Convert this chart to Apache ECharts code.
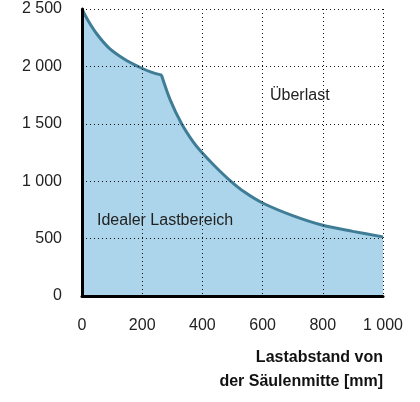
<!DOCTYPE html>
<html>
<head>
<meta charset="utf-8">
<script src="https://cdn.jsdelivr.net/npm/echarts@6/dist/echarts.min.js"></script>
<style>
  html, body { margin: 0; padding: 0; background: #fff; }
  #chart { width: 420px; height: 402px; }
</style>
</head>
<body>
<div id="chart"></div>
<script>
// Lastkurve in zwei Abschnitten, Knick bei ~264 mm
var abstandA = [0, 20, 50, 90, 140, 190, 230, 266];
var lastA = [2500, 2400, 2280, 2160, 2065, 1995, 1950, 1924];
var abstandB = [264, 292, 330, 370, 400, 440, 490, 540, 600, 700, 800, 900, 1000];
var lastB = [1925, 1715, 1505, 1340, 1245, 1135, 1010, 905, 810, 700, 616, 563, 515];

var xTicks = [0, 200, 400, 600, 800, 1000];
var yTicks = [0, 500, 1000, 1500, 2000, 2500];

function tausend(v) {
  return String(v).replace(/\B(?=(\d{3})+(?!\d))/g, ' ');
}
function paare(xs, ys) {
  var out = [];
  for (var i = 0; i < xs.length; i++) out.push([xs[i], ys[i]]);
  return out;
}

var fnt = '"Liberation Sans", Arial, sans-serif';
var linie = '#3f7d97';
var flaeche = '#acd5eb';

var chart = echarts.init(document.getElementById('chart'));
chart.setOption({
  animation: false,
  grid: { left: 82, right: 37, top: 9, bottom: 106 },
  xAxis: {
    type: 'value', min: xTicks[0], max: xTicks[xTicks.length - 1], interval: 200, z: 5,
    axisLine: { show: true, onZero: false, lineStyle: { color: '#000', width: 3 } },
    axisTick: { show: false },
    axisLabel: { margin: 22, fontSize: 16, color: '#222', fontFamily: fnt, formatter: tausend },
    splitLine: { show: true, lineStyle: { color: '#111', type: [1, 3], width: 1 } }
  },
  yAxis: {
    type: 'value', min: yTicks[0], max: yTicks[yTicks.length - 1], interval: 500, z: 5,
    axisLine: { show: true, lineStyle: { color: '#000', width: 3 } },
    axisTick: { show: false },
    axisLabel: { margin: 20, fontSize: 16, color: '#222', fontFamily: fnt, formatter: tausend },
    splitLine: { show: true, lineStyle: { color: '#111', type: [1, 3], width: 1 } }
  },
  series: [
    {
      type: 'line', data: paare(abstandA, lastA), smooth: 0.35, symbol: 'none',
      lineStyle: { color: linie, width: 3 }, areaStyle: { color: flaeche, opacity: 1 }
    },
    {
      type: 'line', data: paare(abstandB, lastB), smooth: 0.3, symbol: 'none',
      lineStyle: { color: linie, width: 3 }, areaStyle: { color: flaeche, opacity: 1 }
    }
  ],
  graphic: [
    { type: 'text', z: 20, left: 270, top: 88, style: { text: 'Überlast', fontSize: 16, fill: '#222', fontFamily: fnt } },
    { type: 'text', z: 20, left: 97, top: 213, style: { text: 'Idealer Lastbereich', fontSize: 16, fill: '#222', fontFamily: fnt } },
    { type: 'text', z: 20, right: 37, top: 350, style: { text: 'Lastabstand von', fontSize: 16, fontWeight: 'bold', fill: '#111', fontFamily: fnt, align: 'right' } },
    { type: 'text', z: 20, right: 37, top: 374, style: { text: 'der Säulenmitte [mm]', fontSize: 16, fontWeight: 'bold', fill: '#111', fontFamily: fnt, align: 'right' } }
  ]
});
</script>
</body>
</html>
